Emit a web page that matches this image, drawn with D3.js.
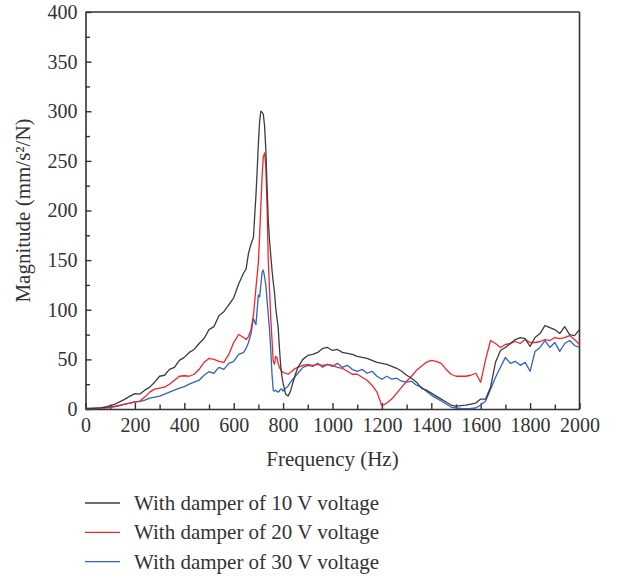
<!DOCTYPE html>
<html>
<head>
<meta charset="utf-8">
<script src="https://cdn.jsdelivr.net/npm/d3@7"></script>
<style>
  body { margin: 0; background: #fff; }
  text { font-family: "Liberation Serif", "Times New Roman", serif; fill: #333; }
</style>
</head>
<body>
<div id="chart"></div>
<script>
// frequency (Hz), shared by the three curves
const freq = [
  0, 20, 40, 60, 80, 100, 120, 140, 160, 180, 200, 220, 240, 260, 280, 300, 320, 340, 360, 380,
  400, 420, 440, 460, 480, 500, 520, 540, 560, 580, 600, 620, 640,
  650, 660, 670, 680,
  685, 690, 695, 700, 705, 710, 715, 720, 725, 730, 735, 740, 745, 750, 755, 760, 765, 770, 775, 780, 785, 790, 795, 800,
  810, 820, 830, 840, 850, 860,
  880, 900, 920, 940, 960, 980, 1000, 1020, 1040, 1060, 1080, 1100, 1120, 1140, 1160, 1180,
  1200, 1220, 1240, 1260, 1280, 1300, 1320, 1340, 1360, 1380, 1400, 1420, 1440, 1460, 1480,
  1500, 1520, 1540, 1560, 1580, 1600, 1620, 1640, 1660, 1680, 1700, 1720, 1740, 1760, 1780,
  1800, 1820, 1840, 1860, 1880, 1900, 1920, 1940, 1960, 1980, 2000
]

const v10 = [
  0.5, 0.5, 0.8, 1.2, 2, 3.5, 5, 7.5, 10, 13, 15.5, 15, 19, 22, 27, 33, 34, 40, 42, 49,
  52, 57, 60, 66, 71, 80, 83, 94, 98, 105, 112, 126, 137,
  141, 157, 166, 173,
  195, 215, 240, 268, 290, 300, 299, 297, 285, 262, 225, 190, 170, 155, 140, 128, 118, 102, 92, 82, 62, 44, 33, 26,
  15, 13, 18, 27, 35, 42,
  50, 54, 55, 57, 61, 62, 59, 60, 57, 56, 55, 53, 52, 51, 49, 47,
  46, 45, 43, 41, 38, 34, 31, 27, 21, 19, 16, 13, 10, 7, 4,
  3, 3.5, 4, 5, 6, 10, 10, 22, 47, 59, 62, 66, 70, 72, 71,
  63, 72, 76, 84, 82, 80, 76, 83, 75, 74, 80
]

const v20 = [
  0.5, 0.5, 0.7, 1, 1.5, 2, 3, 4, 5, 6, 7, 8, 12, 17, 20, 21, 22, 25, 29, 33,
  33.5, 33, 35, 40, 47, 51, 50, 48, 47, 55, 67, 75, 72,
  70, 73, 80, 95,
  108, 122, 135, 148, 175, 205, 235, 254, 258, 245, 205, 150, 120, 92, 70, 48, 45, 53, 52, 46, 42, 40, 38, 37,
  36, 35, 37, 39, 41, 42,
  44, 45, 44, 45, 44, 45, 44, 42, 41, 38, 35, 35, 32, 29, 24, 17,
  3, 6, 10, 16, 22, 28, 33, 39, 43, 47, 49, 48, 46, 40, 35,
  33, 33, 33, 34, 36, 27, 50, 69, 66, 62, 65, 66, 68, 66, 70,
  67, 67, 68, 70, 69, 72, 71, 72, 74, 70, 65
]

const v30 = [
  0.3, 0.3, 0.5, 0.8, 1, 1.5, 2.5, 3.5, 5, 6, 7.4, 7.5, 9, 11, 12, 13, 15, 17, 19, 21,
  22.5, 25, 27, 29, 34, 37.6, 36, 42, 40, 46, 48, 55, 57,
  61, 67, 76, 91,
  88, 85, 100, 115, 113, 125, 138, 140, 133, 125, 110, 95, 80, 60, 35, 19, 18, 19, 18, 17, 18, 20, 20, 18,
  21, 23, 27, 30, 33, 36,
  42, 44, 43, 46, 42, 45, 43, 46, 42, 44, 40, 38, 40, 36, 38, 33,
  30, 33, 30, 31, 28, 27, 28, 24, 22, 18, 14, 11, 8, 5, 2,
  1, 0.5, 0.3, 0.5, 1, 4, 8, 20, 32, 42, 52, 46, 48, 44, 47,
  38, 58, 62, 69, 62, 67, 58, 66, 69, 64, 62
]

const seriesNames = ['With damper of 10 V voltage', 'With damper of 20 V voltage', 'With damper of 30 V voltage']
const seriesColors = ['#3d3d3d', '#f2262b', '#2f64c2']
const xTicks = [0, 200, 400, 600, 800, 1000, 1200, 1400, 1600, 1800, 2000]
const yTicks = [0, 50, 100, 150, 200, 250, 300, 350, 400]

const margin = {top: 12, left: 85.5}
const width = 494, height = 397

const svg = d3.select('#chart').append('svg')
    .attr('width', 617)
    .attr('height', 578)

const g = svg.append('g')
    .attr('transform', 'translate(' + margin.left + ',' + margin.top + ')')

const x = d3.scaleLinear().domain([0, 2000]).range([0, width])
const y = d3.scaleLinear().domain([0, 400]).range([height, 0])

// minor ticks
g.append('g')
    .attr('transform', 'translate(0,' + height + ')')
    .call(d3.axisBottom(x).tickValues(d3.range(100, 2000, 200)).tickSize(-4.5).tickFormat(''))
    .call(a => a.select('.domain').remove())
g.append('g')
    .call(d3.axisLeft(y).tickValues(d3.range(25, 400, 50)).tickSize(-4.5).tickFormat(''))
    .call(a => a.select('.domain').remove())

const xAxis = g.append('g')
    .attr('transform', 'translate(0,' + height + ')')
    .call(d3.axisBottom(x).tickValues(xTicks).tickFormat(d3.format('d')).tickSize(-6).tickSizeOuter(0).tickPadding(8))
const yAxis = g.append('g')
    .call(d3.axisLeft(y).tickValues(yTicks).tickFormat(d3.format('d')).tickSize(-6).tickSizeOuter(0).tickPadding(8))

g.selectAll('.tick line').attr('stroke', '#333').attr('stroke-width', 1.4)
g.selectAll('.domain').attr('stroke', '#333').attr('stroke-width', 1.6)
g.selectAll('.tick text').attr('font-size', 20).attr('fill', '#333')
    .style('font-family', '"Liberation Serif", serif')
xAxis.selectAll('.tick text').attr('dy', '0.75em')

// top and right frame
g.append('line').attr('x1', 0).attr('x2', width).attr('y1', 0).attr('y2', 0)
    .attr('stroke', '#333').attr('stroke-width', 1.6)
g.append('line').attr('x1', width).attr('x2', width).attr('y1', 0).attr('y2', height)
    .attr('stroke', '#333').attr('stroke-width', 1.6)

const line = d3.line()
    .x(d => x(d[0]))
    .y(d => y(d[1]))

const allSeries = [v10, v20, v30]
// draw 30 V first so the 10 V curve sits on top like the original
;[2, 1, 0].forEach(i => {
    g.append('path')
        .datum(freq.map((f, j) => [f, allSeries[i][j]]))
        .attr('fill', 'none')
        .attr('stroke', seriesColors[i])
        .attr('stroke-width', 1.3)
        .attr('stroke-linejoin', 'round')
        .attr('d', line)
})

// axis titles
svg.append('text')
    .attr('x', margin.left + width / 2)
    .attr('y', 466)
    .attr('text-anchor', 'middle')
    .attr('font-size', 21)
    .text('Frequency (Hz)')

svg.append('text')
    .attr('transform', 'translate(30,' + (margin.top + height / 2) + ') rotate(-90)')
    .attr('text-anchor', 'middle')
    .attr('font-size', 21)
    .text('Magnitude (mm/s²/N)')

// legend
const legend = svg.append('g').attr('transform', 'translate(85,503)')
seriesNames.forEach((name, i) => {
    const row = legend.append('g').attr('transform', 'translate(0,' + (i * 29.3) + ')')
    row.append('line').attr('x1', 0).attr('x2', 35).attr('y1', 0).attr('y2', 0)
        .attr('stroke', seriesColors[i]).attr('stroke-width', 1.3)
    row.append('text').attr('x', 49).attr('y', 0).attr('dy', '0.33em')
        .attr('font-size', 21).text(name)
})
</script>
</body>
</html>
